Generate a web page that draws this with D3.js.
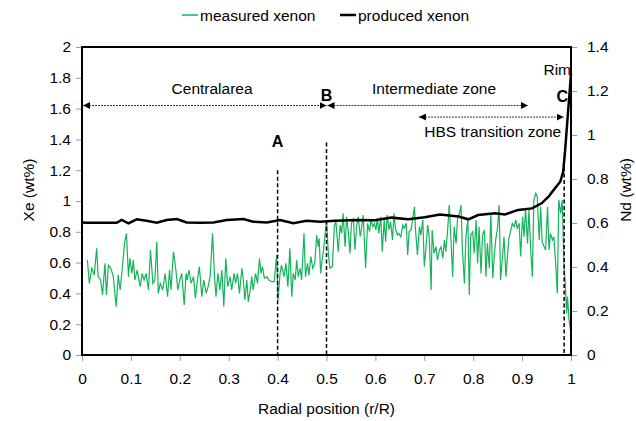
<!DOCTYPE html>
<html><head><meta charset="utf-8">
<script src="https://cdn.jsdelivr.net/npm/d3@7"></script>
<style>body{margin:0;background:#fff}svg{display:block}text{font-family:"Liberation Sans",Arial,sans-serif;fill:#000}</style>
</head><body><svg id="c" width="636" height="421"></svg>
<script>
const xTicks = [0,0.1,0.2,0.3,0.4,0.5,0.6,0.7,0.8,0.9,1];
const yLeftTicks = [0,0.2,0.4,0.6,0.8,1,1.2,1.4,1.6,1.8,2];
const yRightTicks = [0,0.2,0.4,0.6,0.8,1,1.2,1.4];
const seriesNames = ["measured xenon","produced xenon"];

const measuredR = [0.011,0.015,0.020,0.025,0.030,0.033,0.038,0.042,0.047,0.050,0.054,0.059,0.064,0.070,0.074,0.078,0.082,0.087,0.091,0.095,0.098,0.102,0.105,0.108,0.113,0.119,0.123,0.127,0.131,0.136,0.140,0.145,0.149,0.153,0.156,0.160,0.165,0.170,0.175,0.179,0.182,0.187,0.192,0.196,0.200,0.204,0.209,0.213,0.215,0.219,0.223,0.228,0.232,0.236,0.240,0.245,0.249,0.254,0.258,0.262,0.267,0.271,0.274,0.278,0.282,0.286,0.290,0.294,0.298,0.303,0.306,0.311,0.314,0.318,0.322,0.327,0.330,0.333,0.337,0.340,0.344,0.347,0.350,0.355,0.359,0.363,0.366,0.369,0.373,0.378,0.382,0.388,0.393,0.398,0.401,0.405,0.408,0.413,0.417,0.421,0.425,0.429,0.432,0.436,0.439,0.442,0.446,0.449,0.454,0.457,0.461,0.464,0.468,0.472,0.476,0.480,0.483,0.485,0.488,0.491,0.494,0.497,
0.500,0.504,0.507,0.512,0.516,0.519,0.524,0.528,0.531,0.534,0.538,0.541,0.545,0.548,0.551,0.555,0.558,0.562,0.565,0.569,0.572,0.575,0.580,0.584,0.588,0.591,0.595,0.598,0.601,0.604,0.607,0.611,0.614,0.618,0.621,0.624,0.628,0.631,0.635,0.638,0.641,0.645,0.648,0.652,0.656,0.659,0.663,0.666,0.669,0.673,0.676,0.680,0.682,0.686,0.690,0.693,0.697,0.700,0.703,0.707,0.710,0.714,0.716,0.720,0.724,0.727,0.731,0.734,0.738,0.741,0.744,0.748,0.751,0.755,0.758,0.761,0.765,0.768,0.772,0.775,0.778,0.782,0.785,0.789,0.792,0.795,0.799,0.802,0.806,0.809,0.812,0.816,0.819,0.823,0.826,0.829,0.833,0.836,0.840,0.843,0.846,0.850,0.853,0.856,0.860,0.863,0.867,0.870,0.873,0.877,0.880,0.884,0.887,0.890,0.894,0.897,0.901,0.904,0.907,0.911,0.914,0.918,0.921,0.924,0.928,0.931,0.935,0.938,0.941,0.945,0.948,0.952,0.955,0.958,0.962,0.965,0.969,0.972,0.975,0.979,0.982,0.986,0.988,0.991,0.993,0.996,0.999,1.000];
const measuredXe = [0.617,0.465,0.563,0.519,0.693,0.509,0.487,0.390,0.595,0.390,0.584,0.563,0.509,0.314,0.519,0.422,0.552,0.725,0.790,0.509,0.628,0.530,0.617,0.487,0.552,0.444,0.530,0.487,0.530,0.422,0.682,0.465,0.487,0.736,0.400,0.465,0.422,0.530,0.379,0.552,0.422,0.671,0.552,0.422,0.487,0.530,0.325,0.530,0.487,0.552,0.465,0.509,0.368,0.487,0.574,0.379,0.487,0.400,0.444,0.509,0.790,0.509,0.379,0.530,0.422,0.552,0.314,0.628,0.444,0.509,0.422,0.530,0.465,0.530,0.400,0.563,0.487,0.357,0.487,0.346,0.422,0.509,0.422,0.530,0.465,0.628,0.530,0.574,0.498,0.509,0.487,0.476,0.476,0.649,0.357,0.530,0.584,0.509,0.595,0.444,0.693,0.379,0.530,0.487,0.617,0.509,0.563,0.487,0.790,0.509,0.595,0.519,0.639,0.563,0.595,0.779,0.703,0.758,0.530,0.617,0.682,0.779,
0.877,0.649,0.563,0.574,0.833,0.877,0.671,0.844,0.790,0.920,0.703,0.898,0.790,0.660,0.855,0.887,0.682,0.844,0.898,0.768,0.833,0.909,0.563,0.855,0.801,0.877,0.833,0.855,0.812,0.887,0.790,0.898,0.671,0.877,0.736,0.909,0.812,0.866,0.747,0.920,0.823,0.779,0.790,0.768,0.844,0.823,0.855,0.649,0.801,0.812,0.877,0.963,0.812,0.649,0.833,0.779,0.877,0.574,0.682,0.844,0.768,0.422,0.812,0.660,0.703,0.617,0.682,0.703,0.628,0.747,0.671,0.823,0.974,0.714,0.509,0.833,0.725,0.887,0.920,0.974,0.682,0.465,0.768,0.877,0.390,0.779,0.801,0.660,0.877,0.595,0.833,0.530,0.779,0.812,0.509,0.725,0.563,0.920,0.498,0.639,0.747,0.833,0.974,0.487,0.639,0.768,0.509,0.639,0.758,0.812,0.855,0.833,0.877,0.823,0.855,0.639,0.898,0.768,0.952,0.725,0.942,0.660,0.509,1.006,1.050,1.028,0.747,0.963,0.736,0.703,0.682,0.963,0.682,0.790,0.747,0.768,0.574,0.400,1.006,0.920,1.006,0.552,0.487,0.271,0.379,0.227,0.162,0.580];

const producedR = [0.000,0.010,0.037,0.071,0.081,0.095,0.112,0.132,0.153,0.173,0.194,0.214,0.241,0.269,0.296,0.330,0.350,0.378,0.405,0.432,0.459,0.487,0.517,0.565,0.599,0.633,0.667,0.701,0.732,0.770,0.790,0.810,0.845,0.865,0.892,0.920,0.940,0.954,0.967,0.978,0.984,0.988,0.994,0.998,1.000];
const producedXe = [0.860,0.859,0.859,0.859,0.877,0.855,0.881,0.872,0.859,0.877,0.883,0.861,0.859,0.861,0.877,0.883,0.866,0.861,0.877,0.855,0.872,0.866,0.872,0.877,0.875,0.892,0.881,0.894,0.913,0.899,0.881,0.909,0.920,0.913,0.942,0.952,0.985,1.028,1.082,1.125,1.190,1.330,1.580,1.740,1.830];

const svg = d3.select("#c");
const x = d3.scaleLinear().domain([0,1]).range([82,571]);
const yL = d3.scaleLinear().domain([0,2]).range([355,47]);
const yR = d3.scaleLinear().domain([0,1.4]).range([355,47]);
const FS = "15.5px";
const green = "#14b45a";

// axes
const ax = svg.append("g").attr("transform","translate(0,355)").call(d3.axisBottom(x).tickValues(xTicks).tickFormat(d3.format("")).tickSize(6).tickPadding(12));
const al = svg.append("g").attr("transform","translate(82,0)").call(d3.axisLeft(yL).tickValues(yLeftTicks).tickFormat(d3.format("")).tickSize(6).tickPadding(5));
const ar = svg.append("g").attr("transform","translate(571,0)").call(d3.axisRight(yR).tickValues(yRightTicks).tickFormat(d3.format("")).tickSize(6).tickPadding(10));
[ax,al,ar].forEach(g=>{g.select(".domain").remove();g.selectAll(".tick line").attr("stroke","#9a9a9a");g.selectAll(".tick text").style("font-size",FS).attr("fill","#000");});

// lines
const lineG = d3.line().x((d,i)=>x(measuredR[i])).y(d=>yL(d));
svg.append("path").datum(measuredXe).attr("d",lineG).attr("fill","none").attr("stroke",green).attr("stroke-width",1.2);
const lineP = d3.line().x((d,i)=>x(producedR[i])).y(d=>yL(d)).curve(d3.curveLinear);
svg.append("path").datum(producedXe).attr("d",lineP).attr("fill","none").attr("stroke","#000").attr("stroke-width",2.5);

// frame
svg.append("rect").attr("x",x(0)).attr("y",yL(2)).attr("width",x(1)-x(0)).attr("height",yL(0)-yL(2)).attr("fill","none").attr("stroke","#000").attr("stroke-width",2);

// dashed verticals
const vlines = [[0.4,1.2],[0.5,1.38],[0.986,1.22]];
vlines.forEach(v=>svg.append("line").attr("x1",x(v[0])).attr("x2",x(v[0])).attr("y1",yL(v[1])).attr("y2",yL(0)).attr("stroke","#000").attr("stroke-width",1.5).attr("stroke-dasharray","4,2.5"));

// arrows
const defs = svg.append("defs");
defs.append("marker").attr("id","ah").attr("viewBox","0 0 10 10").attr("refX",10).attr("refY",5).attr("markerWidth",7).attr("markerHeight",7).attr("markerUnits","userSpaceOnUse").attr("orient","auto-start-reverse")
  .append("path").attr("d","M0,0L10,5L0,10z").attr("fill","#000");
const arrows = [[0.0,0.5,1.62],[0.5,0.912,1.62],[0.687,0.985,1.545]];
arrows.forEach(a=>svg.append("line").attr("x1",x(a[0])+1).attr("x2",x(a[1])).attr("y1",yL(a[2])).attr("y2",yL(a[2])).attr("stroke","#000").attr("stroke-width",0.8).attr("stroke-dasharray","2,1").attr("marker-start","url(#ah)").attr("marker-end","url(#ah)"));

// annotation texts
const ann = [["Centralarea",0.266,94,"middle","normal"],["Intermediate zone",0.72,94,"middle","normal"],["HBS transition zone",0.84,137,"middle","normal"],["Rim",1.0,75,"end","normal"],["A",0.4,147,"middle","bold"],["B",0.5,101,"middle","bold"],["C",0.982,102,"middle","bold"]];
ann.forEach(t=>svg.append("text").attr("x",x(t[1])).attr("y",t[2]).attr("text-anchor",t[3]).style("font-size",t[4]==="bold"?"16px":FS).style("font-weight",t[4]).text(t[0]));

// axis titles
svg.append("text").attr("transform","translate(34,190) rotate(-90)").attr("text-anchor","middle").style("font-size",FS).text("Xe (wt%)");
svg.append("text").attr("transform","translate(631,190) rotate(-90)").attr("text-anchor","middle").style("font-size",FS).text("Nd (wt%)");
svg.append("text").attr("x",x(0.5)).attr("y",414).attr("text-anchor","middle").style("font-size",FS).text("Radial position (r/R)");

// legend
const leg = [[182,green,1.5],[340,"#000",2.5]];
leg.forEach((l,i)=>{
  svg.append("line").attr("x1",l[0]).attr("x2",l[0]+16).attr("y1",15).attr("y2",15).attr("stroke",l[1]).attr("stroke-width",l[2]);
  svg.append("text").attr("x",l[0]+18).attr("y",20.5).style("font-size",FS).text(seriesNames[i]);
});
</script></body></html>
